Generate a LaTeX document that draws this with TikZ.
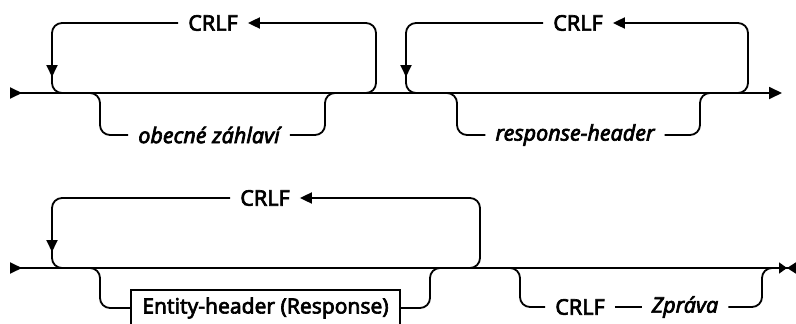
\documentclass[tikz,border=0pt]{standalone}
\usepackage{fontspec}
\setmainfont{Noto Sans}
\newfontfamily\railfont{Noto Sans}[FakeBold=3]
\usetikzlibrary{arrows.meta}

\begin{document}
\begin{tikzpicture}[
    x=1pt, y=-1pt,
    rail/.style={line width=1.8pt, rounded corners=10pt},
    tip/.style={-{Triangle[length=12pt,width=11pt]}},
    kw/.style={font=\railfont\fontsize{21.5}{24}\selectfont, inner xsep=10pt, inner ysep=0pt},
    var/.style={kw, font=\railfont\fontsize{21.5}{24}\selectfont\itshape},
    ntbox/.style={draw, line width=1.8pt, font=\railfont\fontsize{21}{24}\selectfont, minimum width=269pt, minimum height=36pt, inner sep=0pt}
]
\useasboundingbox (0,0) rectangle (796,324);
% first line
\coordinate (s1) at (10,93);
\coordinate (e1) at (782,93);
\node[kw] (crlfA) at (213,23) {CRLF};
\node[var] (obA) at (209,135) {obecné záhlaví};
\node[kw] (crlfB) at (578,23) {CRLF};
\node[var] (rhB) at (575,135) {response-header};
\draw[rail, {Triangle[reversed,length=12pt,width=11pt]}-{Triangle[length=13pt,width=12pt]}] (s1) -- (e1);
\draw[rail, tip] (356,93) -| (376,23) -- (crlfA.east);
\draw[rail, tip] (crlfA.west) -| (52,77);
\draw[rail] (52,70) |- (72,93);
\draw[rail] (80,93) -| (100,135) -- (obA.west);
\draw[rail] (obA.east) -| (325,93) -- (345,93);
\draw[rail, tip] (728,93) -| (748,23) -- (crlfB.east);
\draw[rail, tip] (crlfB.west) -| (406,77);
\draw[rail] (406,70) |- (426,93);
\draw[rail] (437,93) -| (457,135) -- (rhB.west);
\draw[rail] (rhB.east) -| (700,93) -- (720,93);
% second line
\coordinate (s2) at (10,268);
\coordinate (e2) at (796,268);
\node[kw] (crlfC) at (265,198) {CRLF};
\node[ntbox] (ehC) at (265.5,308) {Entity-header (Response)};
\node[kw] (crlfD) at (580,307) {CRLF};
\node[var] (zpD) at (685,307) {Zpráva};
\draw[rail, {Triangle[reversed,length=12pt,width=11pt]}-{Triangle[length=8pt,width=11pt]Triangle[reversed,length=9pt,width=11pt]}] (s2) -- (e2);
\draw[rail, tip] (460,268) -| (480,198) -- (crlfC.east);
\draw[rail, tip] (crlfC.west) -| (52,252);
\draw[rail] (52,245) |- (72,268);
\draw[rail] (80,268) -| (100,308) -- (ehC.west);
\draw[rail] (ehC.east) -| (430,268) -- (450,268);
\draw[rail] (500,268) -| (520,307) -- (crlfD.west);
\draw[rail] (crlfD.east) -- (zpD.west);
\draw[rail] (zpD.east) -| (762,268) -- (782,268);
\end{tikzpicture}
\end{document}
